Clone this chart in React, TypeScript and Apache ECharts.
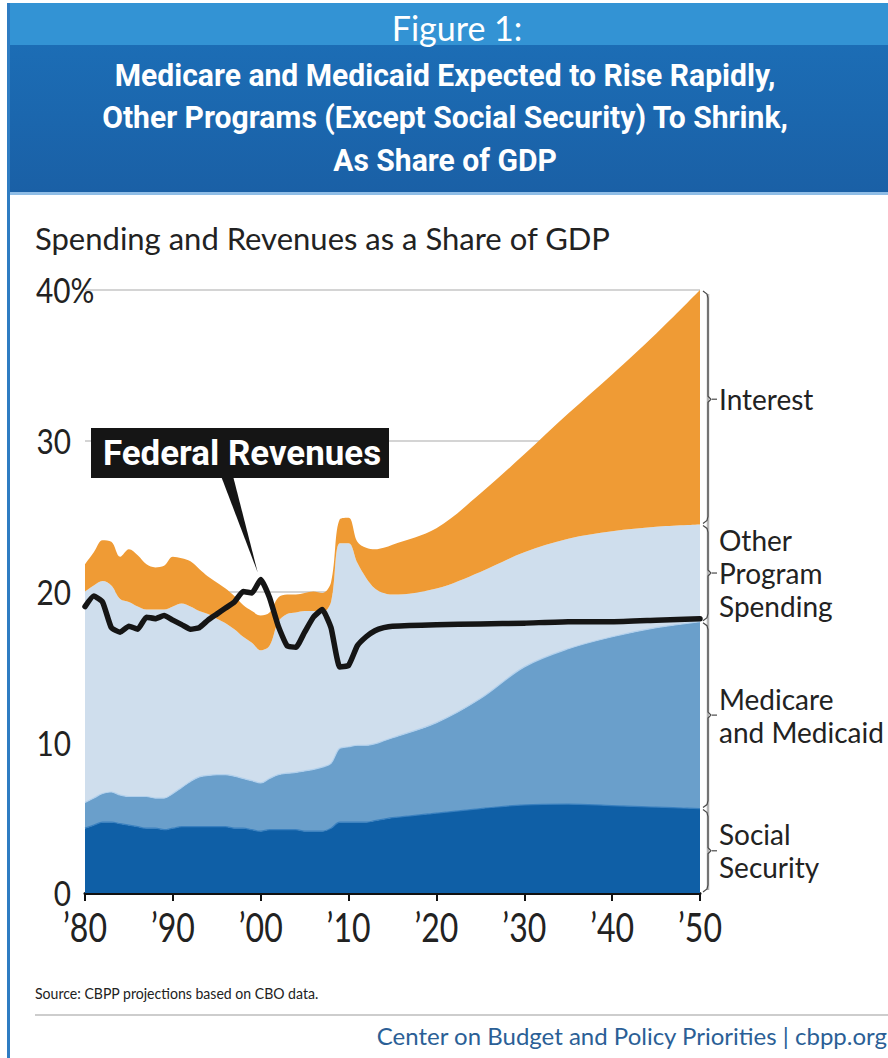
import React, { useEffect, useRef } from "react";
import * as echarts from "echarts";

// ---------- data (share of GDP, %) ----------
const years = [
  1980, 1981, 1982, 1983, 1984, 1985, 1986, 1987, 1988, 1989,
  1990, 1991, 1992, 1993, 1994, 1995, 1996, 1997, 1998, 1999,
  2000, 2001, 2002, 2003, 2004, 2005, 2006, 2007, 2008, 2009,
  2010, 2011, 2012, 2013, 2014, 2015, 2020, 2025, 2030, 2035,
  2040, 2045, 2050,
];
const socialSecurity = [
  4.3, 4.5, 4.7, 4.7, 4.6, 4.5, 4.4, 4.3, 4.3, 4.2,
  4.3, 4.4, 4.4, 4.4, 4.4, 4.4, 4.4, 4.3, 4.3, 4.2,
  4.1, 4.2, 4.2, 4.2, 4.2, 4.1, 4.1, 4.1, 4.3, 4.7,
  4.7, 4.7, 4.7, 4.8, 4.9, 5.0, 5.3, 5.6, 5.85, 5.9,
  5.8, 5.7, 5.6,
];
const medicareMedicaid = [
  1.7, 1.8, 1.9, 2.0, 1.9, 1.9, 2.0, 2.1, 2.0, 2.1,
  2.3, 2.6, 3.0, 3.3, 3.4, 3.45, 3.45, 3.45, 3.3, 3.25,
  3.2, 3.4, 3.65, 3.75, 3.8, 4.0, 4.1, 4.25, 4.3, 4.9,
  5.0, 5.1, 5.1, 5.1, 5.2, 5.3, 6.0, 7.3, 9.15, 10.3,
  11.2, 11.9, 12.4,
];
const otherPrograms = [
  14.0, 14.1, 14.1, 13.7, 13.0, 12.9, 12.6, 12.4, 12.5, 12.5,
  12.4, 12.2, 11.6, 11.0, 10.7, 10.35, 10.05, 9.75, 9.4, 9.15,
  8.8, 8.8, 10.15, 10.55, 10.6, 10.6, 10.5, 10.25, 10.7, 13.6,
  13.5, 12.1, 11.1, 10.3, 9.8, 9.5, 8.9, 8.4, 7.6, 7.3,
  7.0, 6.7, 6.45,
];
const interest = [
  1.8, 2.2, 2.7, 2.9, 2.8, 3.5, 3.4, 3.0, 2.8, 2.9,
  3.3, 3.0, 3.0, 2.8, 2.5, 2.4, 2.3, 2.2, 2.1, 2.1,
  2.3, 2.2, 1.6, 1.3, 1.2, 1.2, 1.3, 1.3, 1.3, 1.6,
  1.7, 1.4, 2.0, 2.6, 3.0, 3.3, 4.0, 5.2, 6.5, 8.3,
  10.4, 12.8, 15.55,
];
const revenues = [
  19.0, 19.7, 19.3, 17.6, 17.3, 17.7, 17.5, 18.3, 18.2, 18.4,
  18.1, 17.8, 17.5, 17.6, 18.1, 18.5, 18.9, 19.3, 20.0, 19.9,
  20.8, 19.6, 17.7, 16.4, 16.3, 17.3, 18.3, 18.8, 17.6, 15.0,
  15.1, 16.4, 17.0, 17.4, 17.6, 17.7, 17.8, 17.85, 17.9, 18.0,
  18.0, 18.1, 18.2,
];
const yTicks = [0, 10, 20, 30, 40];
const xTicks = [1980, 1990, 2000, 2010, 2020, 2030, 2040, 2050];
const xTickLabels = ["\u201980", "\u201990", "\u201900", "\u201910", "\u201920", "\u201930", "\u201940", "\u201950"];
const segmentLabels = [
  ["Social", "Security"],
  ["Medicare", "and Medicaid"],
  ["Other", "Program", "Spending"],
  ["Interest"],
];
const titleLines = [
  "Medicare and Medicaid Expected to Rise Rapidly,",
  "Other Programs (Except Social Security) To Shrink,",
  "As Share of GDP",
];

// ---------- styles ----------
const REG = "Lato, 'Open Sans', sans-serif";
const BOLD = "Roboto, 'Open Sans', sans-serif";
const C_SS = "#0f5fa6";
const C_MED = "#6a9fcb";
const C_OTHER = "#cfdeed";
const C_INT = "#ef9b35";

export default function App() {
  const ref = useRef<HTMLDivElement>(null);

  useEffect(() => {
    if (!ref.current) return;
    const chart = echarts.init(ref.current, undefined, { renderer: "svg" });
    // rows are [value, year] so that the stacked dimension is the value (y) one
    const rows = (arr: number[]) => years.map((y, i) => [arr[i], y]);
    const area = (name: string, arr: number[], color: string, edge: string | null) => ({
      name,
      type: "line",
      stack: "spend",
      data: rows(arr),
      encode: { x: 1, y: 0 },
      symbol: "none",
      smooth: 0.35,
      lineStyle: edge ? { width: 1.2, color: edge } : { width: 0 },
      areaStyle: { color, opacity: 1 },
      itemStyle: { color },
      z: 2,
    });

    chart.setOption({
      animation: false,
      backgroundColor: "#ffffff",
      grid: { left: 85, right: 188, top: 290, bottom: 165 },
      xAxis: {
        type: "value",
        min: 1980,
        max: 2050,
        interval: 10,
        axisLine: { show: true, lineStyle: { color: "#111", width: 3 } },
        axisTick: { show: true, length: 8, lineStyle: { color: "#111", width: 2 } },
        axisLabel: { show: false },
        splitLine: { show: false },
      },
      yAxis: {
        type: "value",
        min: 0,
        max: 40,
        interval: 10,
        axisLabel: { show: false },
        axisTick: { show: false },
        axisLine: { show: false },
        splitLine: { show: true, lineStyle: { color: "#c6c6c6", width: 1.5 } },
      },
      series: [
        area("Social Security", socialSecurity, C_SS, "#3a80bf"),
        area("Medicare and Medicaid", medicareMedicaid, C_MED, "#b2d0ec"),
        area("Other Program Spending", otherPrograms, C_OTHER, null),
        area("Interest", interest, C_INT, null),
        {
          name: "Federal Revenues",
          type: "line",
          data: years.map((y, i) => [y, revenues[i]]),
          symbol: "none",
          smooth: 0.15,
          lineStyle: { color: "#151515", width: 5.5, cap: "round", join: "round" },
          itemStyle: { color: "#151515" },
          z: 5,
        },
      ],
    });

    const px = (x: number, y: number) =>
      chart.convertToPixel({ gridIndex: 0 }, [x, y]) as number[];

    const g: any[] = [];
    // header band
    g.push({ type: "rect", shape: { x: 10, y: 3, width: 878, height: 42 }, style: { fill: "#3393d4" }, z: 10 });
    g.push({
      type: "rect",
      shape: { x: 10, y: 45, width: 878, height: 147 },
      style: {
        fill: new echarts.graphic.LinearGradient(0, 0, 0, 1, [
          { offset: 0, color: "#1c6db5" },
          { offset: 1, color: "#1a60a6" },
        ]),
      },
      z: 10,
    });
    g.push({ type: "rect", shape: { x: 10, y: 192, width: 878, height: 3 }, style: { fill: "#8fbde6" }, z: 10 });
    g.push({ type: "rect", shape: { x: 7, y: 3, width: 3, height: 1055 }, style: { fill: "#2f7cc2" }, z: 10 });
    g.push({
      type: "text", x: 457, y: 27, z: 11,
      style: { text: "Figure 1:", fill: "#ffffff", font: `34px ${REG}`, textAlign: "center", textVerticalAlign: "middle" },
    });
    titleLines.forEach((t, i) => {
      g.push({
        type: "text", x: 445, y: 75 + i * 42.5, z: 11, scaleX: 0.94,
        style: { text: t, fill: "#ffffff", font: `bold 32px ${BOLD}`, textAlign: "center", textVerticalAlign: "middle" },
      });
    });
    // subtitle
    g.push({
      type: "text", x: 35, y: 238, z: 11,
      style: { text: "Spending and Revenues as a Share of GDP", fill: "#222", font: `31px ${REG}`, textAlign: "left", textVerticalAlign: "middle" },
    });
    // y tick labels
    yTicks.forEach((t) => {
      const p = px(1980, t);
      const is40 = t === 40;
      g.push({
        type: "text", x: is40 ? 36 : 71, y: p[1], z: 11, scaleX: 0.85,
        style: {
          text: is40 ? `${t}%` : String(t),
          fill: "#222",
          font: `35px ${REG}`,
          textAlign: is40 ? "left" : "right",
          textVerticalAlign: "middle",
        },
      });
    });
    // x tick labels
    xTicks.forEach((t, i) => {
      const p = px(t, 0);
      g.push({
        type: "text", x: p[0], y: p[1] + 34, z: 11, scaleX: 0.8,
        style: { text: xTickLabels[i], fill: "#222", font: `40px ${REG}`, textAlign: "center", textVerticalAlign: "middle" },
      });
    });
    // braces on the right
    const last = years.length - 1;
    const cum = [0];
    [socialSecurity, medicareMedicaid, otherPrograms, interest].forEach((a) => cum.push(cum[cum.length - 1] + a[last]));
    const xb = px(2050, 0)[0] + 8;
    g.push({ type: "line", shape: { x1: xb, y1: px(2050, cum[4])[1] + 4, x2: xb, y2: px(2050, 0)[1] - 3 }, style: { stroke: "#b5b5b5", lineWidth: 2.5 }, z: 11 });
    for (let i = 0; i < 4; i++) {
      const yBot = px(2050, cum[i])[1] - 1;
      const yTop = px(2050, cum[i + 1])[1] + 1;
      const yMid = (yTop + yBot) / 2 - (i === 3 ? 8 : 0);
      g.push({
        type: "polyline", z: 12,
        shape: { points: [[xb - 5, yTop], [xb - 1, yTop + 3], [xb, yTop + 7], [xb, yMid - 3], [xb + 3, yMid], [xb, yMid + 3], [xb, yBot - 7], [xb - 1, yBot - 3], [xb - 5, yBot]] },
        style: { stroke: "#4a4a4a", lineWidth: 1.2, fill: null },
      });
      g.push({ type: "line", z: 12, shape: { x1: xb + 4, y1: yMid, x2: xb + 9, y2: yMid }, style: { stroke: "#4a4a4a", lineWidth: 1.2 } });
      const lines = segmentLabels[i];
      const lh = 33;
      lines.forEach((ln, j) => {
        g.push({
          type: "text", x: xb + 11, y: yMid + (j - (lines.length - 1) / 2) * lh, z: 12,
          style: { text: ln, fill: "#222", font: `28px ${REG}`, textAlign: "left", textVerticalAlign: "middle" },
        });
      });
    }
    // Federal Revenues callout
    const idx2000 = years.indexOf(2000);
    const tip = px(2000, revenues[idx2000]);
    g.push({
      type: "polygon", z: 13,
      shape: { points: [[221, 476], [233, 476], [tip[0] - 3, tip[1] - 7]] },
      style: { fill: "#151515" },
    });
    g.push({ type: "rect", z: 13, shape: { x: 91, y: 428, width: 298, height: 50 }, style: { fill: "#151515" } });
    g.push({
      type: "text", x: 242, y: 453, z: 14, scaleX: 0.97,
      style: { text: "Federal Revenues", fill: "#ffffff", font: `bold 36px ${BOLD}`, textAlign: "center", textVerticalAlign: "middle" },
    });
    // source and footer
    g.push({
      type: "text", x: 35, y: 993, z: 11, scaleX: 0.88,
      style: { text: "Source: CBPP projections based on CBO data.", fill: "#222", font: `16px ${REG}`, textAlign: "left", textVerticalAlign: "middle" },
    });
    g.push({ type: "line", z: 11, shape: { x1: 35, y1: 1015, x2: 888, y2: 1015 }, style: { stroke: "#bdbdbd", lineWidth: 1.5 } });
    g.push({
      type: "text", x: 887, y: 1035, z: 11,
      style: { text: "Center on Budget and Policy Priorities | cbpp.org", fill: "#2b5f96", font: `24px ${REG}`, textAlign: "right", textVerticalAlign: "middle" },
    });

    chart.setOption({ graphic: g });

    return () => chart.dispose();
  }, []);

  return (
    <div style={{ position: "fixed", left: 0, top: 0, width: 888, height: 1058, background: "#fff" }}>
      <div ref={ref} style={{ width: 888, height: 1058 }} />
    </div>
  );
}
